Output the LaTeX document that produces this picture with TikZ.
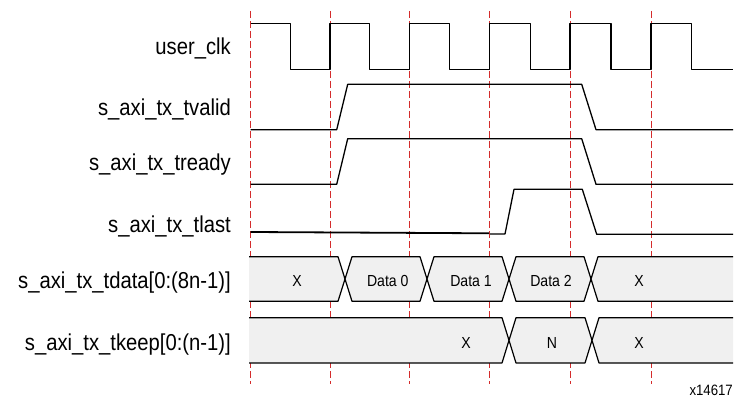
\documentclass[tikz,border=0pt]{standalone}
\usepackage{fontspec}
\setmainfont{Liberation Sans}[FakeStretch=0.88]
\definecolor{gridred}{RGB}{212,44,44}
\definecolor{busfill}{RGB}{240,240,240}
\begin{document}
\begin{tikzpicture}[x=1pt,y=-1pt,
  sig/.style={line width=1.3pt,line join=round},
  grid/.style={gridred,line width=0.9pt,dash pattern=on 7pt off 3pt},
  bus/.style={fill=busfill,draw=black,line width=1.2pt,line join=round},
  lbl/.style={anchor=base east,inner sep=0pt,font=\fontsize{23}{23}\selectfont},
  val/.style={inner sep=0pt,font=\fontsize{16}{16}\selectfont}]
\useasboundingbox (0,0) rectangle (735,398);
% clock edges
\draw[grid] (250.5,11) -- (250.5,384);
\draw[grid] (330,11) -- (330,384);
\draw[grid] (409.5,11) -- (409.5,384);
\draw[grid] (489.5,11) -- (489.5,384);
\draw[grid] (570,11) -- (570,384);
\draw[grid] (651,11) -- (651,384);
% signal names
\node[lbl] (lclk) at (231,55) {user\_clk};
\node[lbl] (lvalid) at (231,115.7) {s\_axi\_tx\_tvalid};
\node[lbl] (lready) at (231,170.7) {s\_axi\_tx\_tready};
\node[lbl] (llast) at (231,232.3) {s\_axi\_tx\_tlast};
\node[lbl] (ldata) at (231,288.3) {s\_axi\_tx\_tdata[0:(8n-1)]};
\node[lbl] (lkeep) at (231,350.7) {s\_axi\_tx\_tkeep[0:(n-1)]};
% user_clk
\draw[sig] (250.5,23.7) -| (290.5,69.3) -| (330,23.7) -| (369.5,69.3) -| (409.5,23.7)
  -| (449.5,69.3) -| (489.5,23.7) -| (530.5,69.3) -| (570,23.7) -| (611,69.3)
  -| (651,23.7) -| (691.5,69.3) -- (733,69.3);
% tvalid and tready
\draw[sig] (250.5,129.7) -- (336.7,129.7) -- (347.7,84.3) -- (581.7,84.3) -- (596,129.7) -- (733,129.7);
\draw[sig] (250.5,184.3) -- (336.7,184.3) -- (347.7,138.7) -- (581.7,138.7) -- (596,184.3) -- (733,184.3);
% tlast
\draw[line width=1.8pt] (250.5,232) -- (489,233.3);
\draw[sig] (490,234) -- (505,234) -- (514,189.3) -- (582.3,189.3) -- (596.7,234.3) -- (733,234.3);
% tdata
\draw[bus] (249,256.7) -- (338,256.7) -- (345,279) -- (338,301.3) -- (249,301.3);
\draw[bus] (352,256.7) -- (420,256.7) -- (427,279) -- (420,301.3) -- (352,301.3) -- (345,279) -- cycle;
\draw[bus] (434,256.7) -- (502,256.7) -- (509,279) -- (502,301.3) -- (434,301.3) -- (427,279) -- cycle;
\draw[bus] (516,256.7) -- (584,256.7) -- (591,279) -- (584,301.3) -- (516,301.3) -- (509,279) -- cycle;
\draw[bus] (733,256.7) -- (598,256.7) -- (591,279) -- (598,301.3) -- (733,301.3);
\node[val] (dx1) at (297,281) {X};
\node[val] (d0) at (387.8,281) {Data 0};
\node[val] (d1) at (471,281) {Data 1};
\node[val] (d2) at (551,281) {Data 2};
\node[val] (dx2) at (639,281) {X};
% tkeep
\draw[bus] (249,317.7) -- (502,317.7) -- (509,340.3) -- (502,363) -- (249,363);
\draw[bus] (516,317.7) -- (585,317.7) -- (592,340.3) -- (585,363) -- (516,363) -- (509,340.3) -- cycle;
\draw[bus] (733,317.7) -- (599,317.7) -- (592,340.3) -- (599,363) -- (733,363);
\node[val] (kx1) at (466,342.7) {X};
\node[val] (kn) at (552,342.7) {N};
\node[val] (kx2) at (639,342.7) {X};
\node[anchor=base east,inner sep=0pt,font=\fontsize{15}{15}\selectfont] (fig) at (733,395) {x14617};
\end{tikzpicture}
\end{document}
